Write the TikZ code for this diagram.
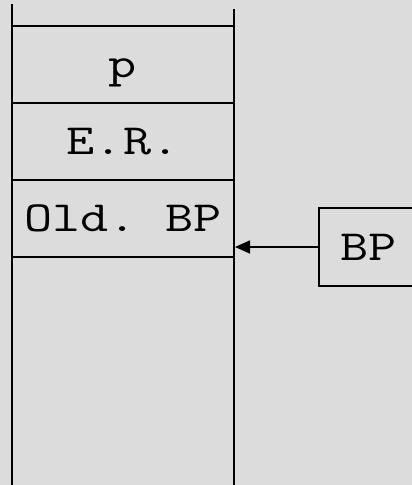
\documentclass[tikz,border=0pt]{standalone}
\usepackage{graphicx}
\usetikzlibrary{arrows.meta}
\definecolor{bgray}{RGB}{220,220,220}
\newcommand{\cell}[1]{\scalebox{1.27}[1]{\fontsize{43}{43}\selectfont\ttfamily\frenchspacing #1}}
\tikzset{
  frame/.style={line width=2pt, line cap=rect},
  slot/.style={draw, line width=2pt, rectangle, minimum width=222pt,
    minimum height=77pt, inner sep=0pt, text height=26pt, text depth=0pt},
  regbox/.style={draw, line width=1.6pt, rectangle, minimum width=99pt,
    minimum height=78pt, inner sep=0pt, text height=26pt, text depth=0pt},
  ptr/.style={line width=1.6pt, -{Triangle[length=15pt,width=13pt]}}
}
\begin{document}
\begin{tikzpicture}[x=1pt,y=-1pt]
  \useasboundingbox (0,0) rectangle (412,485);
  \fill[bgray] (0,0) rectangle (412,485);
  \clip (0,0) rectangle (412,485);
  % stack frame slots
  \node[slot] (p)   at (123,64)    {\cell{p}};
  \node[slot] (er)  at (123,141.5) {\cell{E.R.}};
  \node[slot] (obp) at (123,218.5) {\cell{Old. BP}};
  % stack walls
  \coordinate (lt) at (12,5);
  \coordinate (lb) at (12,490);
  \coordinate (rt) at (234,10);
  \coordinate (rb) at (234,490);
  \draw[frame] (lt) -- (lb);
  \draw[frame] (rt) -- (rb);
  % base pointer register
  \node[regbox] (bp) at (368.5,247) {\cell{BP}};
  \draw[ptr] (bp.west) -- (bp.west -| obp.east);
\end{tikzpicture}
\end{document}
